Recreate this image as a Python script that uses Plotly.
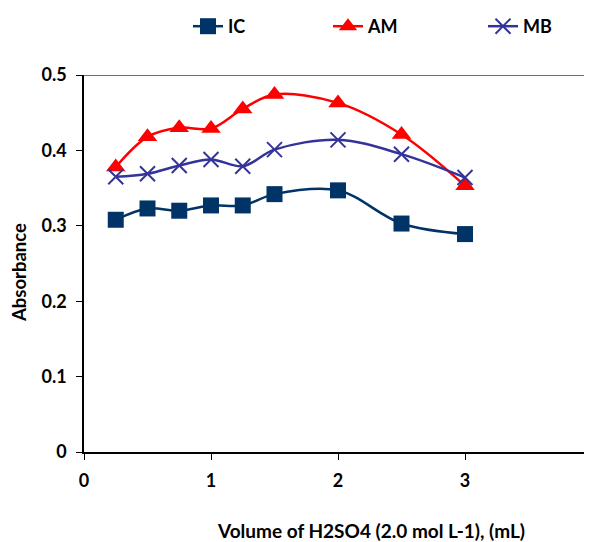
import plotly.graph_objects as go

volume = [0.25, 0.5, 0.75, 1.0, 1.25, 1.5, 2.0, 2.5, 3.0]
ic = [0.308, 0.323, 0.320, 0.327, 0.327, 0.342, 0.347, 0.303, 0.289]
am = [0.378, 0.418, 0.430, 0.429, 0.455, 0.474, 0.463, 0.421, 0.353]
mb = [0.365, 0.369, 0.380, 0.388, 0.379, 0.401, 0.414, 0.395, 0.364]

x_ticks = [0, 1, 2, 3, 4]
y_ticks = [0, 0.1, 0.2, 0.3, 0.4, 0.5]
y_tick_text = ["0", "0.1", "0.2", "0.3", "0.4", "0.5"]

FONT = "Lato"
OFF = 8  # page body margin
W, H = 592 - OFF, 542 - OFF
# reference page-pixel positions
L_pg, T_pg, B_pg = 84, 75, 452
L = L_pg - OFF
T = T_pg - OFF
B = H - (B_pg - OFF)
R = 0
pw = W - L - R
ph = H - T - B

def px(p):
    return (p - OFF - L) / pw

def py(p):
    return (H - B - (p - OFF)) / ph

fig = go.Figure()
fig.add_trace(go.Scatter(x=volume, y=ic, name="IC", mode="lines+markers",
                         line=dict(color="#003366", width=2.5, shape="spline", smoothing=1),
                         marker=dict(symbol="square", size=16, color="#003366"),
                         legend="legend"))
fig.add_trace(go.Scatter(x=volume, y=am, name="AM", mode="lines+markers",
                         line=dict(color="#FF0000", width=2.5, shape="spline", smoothing=1),
                         marker=dict(symbol="triangle-up", size=17, color="#FF0000"),
                         legend="legend2"))
fig.add_trace(go.Scatter(x=volume, y=mb, name="MB", mode="lines+markers",
                         line=dict(color="#333399", width=2.5, shape="spline", smoothing=1),
                         marker=dict(symbol="x-thin-open", size=15, line=dict(color="#333399", width=2)),
                         legend="legend3"))

leg_common = dict(orientation="h", yanchor="middle", xanchor="left",
                  font=dict(family=FONT, size=18, color="black", weight="bold"),
                  bgcolor="rgba(0,0,0,0)", borderwidth=0)

fig.update_layout(
    width=W, height=H,
    showlegend=True,
    margin=dict(l=L, r=R, t=T, b=B, pad=0),
    paper_bgcolor="white", plot_bgcolor="white",
    font=dict(family=FONT, color="black"),
    legend=dict(x=px(188), y=py(26), **leg_common),
    legend2=dict(x=px(328), y=py(26), **leg_common),
    legend3=dict(x=px(483), y=py(26), **leg_common),
    xaxis=dict(range=[0, 4], tickvals=x_ticks, ticktext=[str(v) for v in x_ticks],
               showgrid=False, zeroline=False, showline=True, linecolor="black", linewidth=1.5,
               ticks="outside", ticklen=6, tickcolor="black", tickwidth=1,
               ticklabelstandoff=6,
               tickfont=dict(family=FONT, size=18, color="black", weight="bold")),
    yaxis=dict(range=[0, 0.5], tickvals=y_ticks, ticktext=y_tick_text,
               showgrid=False, zeroline=False, showline=True, linecolor="black", linewidth=1.5,
               ticks="outside", ticklen=6, tickcolor="black", tickwidth=1,
               ticklabelstandoff=6,
               tickfont=dict(family=FONT, size=18, color="black", weight="bold")),
    shapes=[dict(type="line", xref="paper", yref="y", x0=0, x1=1, y0=0.5, y1=0.5,
                 line=dict(color="#404040", width=1.5))],
    annotations=[
        dict(text="Volume of H2SO4 (2.0 mol L-1), (mL)", xref="paper", yref="paper",
             x=px(371), y=py(530), xanchor="center", yanchor="middle", showarrow=False,
             font=dict(family=FONT, size=19, color="black", weight="bold")),
        dict(text="Absorbance", xref="paper", yref="paper", textangle=-90,
             x=px(19), y=py(273), xanchor="center", yanchor="middle", showarrow=False,
             font=dict(family=FONT, size=18.5, color="black", weight="bold")),
    ],
)

fig.write_html("out.html")
